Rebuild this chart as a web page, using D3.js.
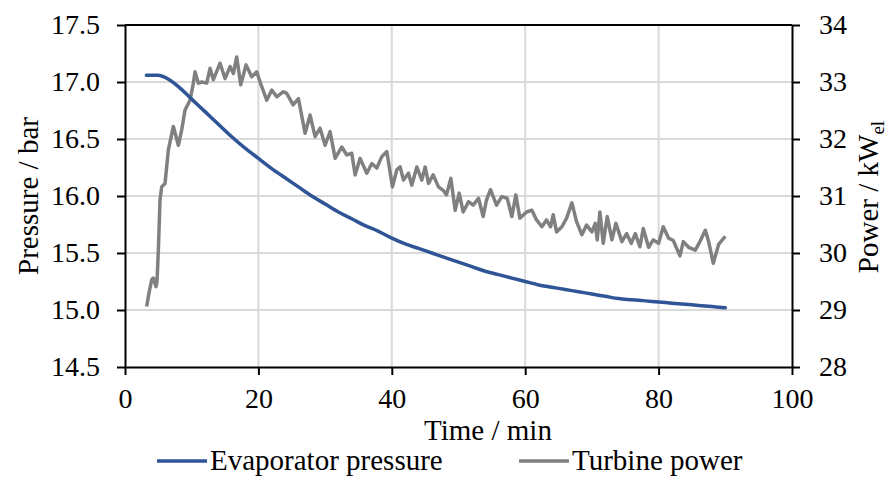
<!DOCTYPE html>
<html>
<head>
<meta charset="utf-8">
<script src="https://cdn.jsdelivr.net/npm/d3@7"></script>
<style>
  body { margin: 0; background: #fff; }
  text { font-family: "Liberation Serif", "Times New Roman", serif; fill: #000; }
</style>
</head>
<body>
<svg id="chart" width="892" height="478"></svg>
<script>
// evaporator pressure (bar) vs time (min)
const pressureTime = [3.2, 5, 6, 8, 10, 12, 14, 16, 18, 20, 22, 24, 26, 28, 30, 32, 34, 36, 38, 40,
  42, 44, 46, 48, 50, 52, 54, 56, 58, 60, 62, 64, 66, 68, 70, 72, 74, 76, 78, 80, 82, 84, 86, 88, 90];
const pressureValue = [17.06, 17.06, 17.04, 16.96, 16.85, 16.74, 16.63, 16.52, 16.42, 16.33, 16.24, 16.16,
  16.08, 16.00, 15.93, 15.86, 15.80, 15.74, 15.69, 15.63, 15.58, 15.54, 15.50, 15.46, 15.42, 15.38, 15.34,
  15.31, 15.28, 15.25, 15.22, 15.20, 15.18, 15.16, 15.14, 15.12, 15.10, 15.09, 15.08, 15.07, 15.06, 15.05,
  15.04, 15.03, 15.02];

// turbine power (kW_el) vs time (min)
const powerTime = [3.25, 3.6, 4.0, 4.25, 4.65, 4.8, 5.0, 5.25, 5.5, 6.0, 6.5, 7.25, 8.0, 8.5, 9.0, 9.75,
  10.25, 10.5, 11.0, 11.5, 12.25, 12.75, 13.25, 14.25, 15.0, 15.75, 16.25, 16.75, 17.35, 18.15, 19.0, 19.75,
  20.25, 21.25, 22.0, 22.75, 23.75, 24.25, 25.2, 26.0, 27.0, 27.75, 28.5, 29.25, 30.0, 30.75, 31.5, 32.5,
  33.25, 34.0, 34.5, 35.25, 36.25, 37.0, 37.75, 38.5, 39.25, 40.1, 40.75, 41.25, 41.75, 42.5, 43.0, 43.75,
  44.5, 45.0, 45.5, 46.2, 47.0, 47.7, 48.2, 48.85, 49.5, 50.1, 50.7, 51.5, 52.2, 53.0, 53.7, 54.2, 54.8,
  55.7, 56.5, 57.3, 58.0, 58.6, 59.2, 60.2, 61.0, 61.7, 62.5, 63.2, 63.8, 64.2, 64.7, 65.5, 66.2, 67.0,
  67.7, 68.5, 69.2, 70.0, 70.5, 70.8, 71.2, 71.7, 72.3, 73.0, 73.6, 74.5, 75.2, 75.9, 76.5, 77.2, 77.7,
  78.5, 79.2, 80.0, 80.7, 81.5, 82.2, 83.2, 83.7, 84.5, 85.5, 86.2, 87.0, 87.5, 88.2, 89.0, 89.5, 90.0];
const powerValue = [29.06, 29.3, 29.53, 29.56, 29.41, 29.5, 30.05, 30.93, 31.16, 31.22, 31.81, 32.22,
  31.89, 32.16, 32.51, 32.68, 32.98, 33.18, 32.98, 33.0, 32.98, 33.24, 33.04, 33.33, 33.06, 33.27, 33.15,
  33.44, 32.95, 33.3, 33.09, 33.18, 33.0, 32.68, 32.86, 32.74, 32.83, 32.8, 32.6, 32.71, 32.1, 32.42,
  32.04, 32.19, 31.89, 32.13, 31.66, 31.86, 31.72, 31.75, 31.37, 31.66, 31.4, 31.57, 31.49, 31.69, 31.78,
  31.16, 31.46, 31.51, 31.28, 31.4, 31.19, 31.51, 31.28, 31.51, 31.22, 31.37, 31.16, 31.1, 31.02, 31.31,
  30.75, 31.05, 30.72, 30.9, 30.84, 30.96, 30.64, 30.93, 31.11, 30.84, 30.99, 30.96, 30.64, 31.02, 30.61,
  30.72, 30.75, 30.58, 30.46, 30.58, 30.46, 30.67, 30.37, 30.46, 30.61, 30.88, 30.55, 30.32, 30.49, 30.37,
  30.52, 30.23, 30.72, 30.17, 30.64, 30.23, 30.52, 30.2, 30.34, 30.17, 30.34, 30.11, 30.43, 30.1, 30.23,
  30.17, 30.46, 30.26, 30.22, 29.95, 30.2, 30.1, 30.05, 30.2, 30.4, 30.2, 29.82, 30.15, 30.22, 30.29];

const xTicks = [0, 20, 40, 60, 80, 100];
const leftTicks = [14.5, 15.0, 15.5, 16.0, 16.5, 17.0, 17.5];
const rightTicks = [28, 29, 30, 31, 32, 33, 34];

const svg = d3.select("#chart");
const plotLeft = 125, plotRight = 792, plotTop = 25, plotBottom = 367;

let x = d3.scaleLinear().domain([0, 100]).range([plotLeft, plotRight]);
let yP = d3.scaleLinear().domain([14.5, 17.5]).range([plotBottom, plotTop]);
let yW = d3.scaleLinear().domain([28, 34]).range([plotBottom, plotTop]);

// gridlines
let grid = svg.append("g").attr("stroke", "#d9d9d9").attr("stroke-width", 2);
grid.selectAll(".hg").data(leftTicks.slice(1, -1)).enter().append("line")
  .attr("x1", plotLeft).attr("x2", plotRight)
  .attr("y1", d => yP(d)).attr("y2", d => yP(d));
grid.selectAll(".vg").data(xTicks.slice(1, -1)).enter().append("line")
  .attr("y1", plotTop).attr("y2", plotBottom)
  .attr("x1", d => x(d)).attr("x2", d => x(d));

// top border
svg.append("line").attr("x1", plotLeft).attr("x2", plotRight).attr("y1", plotTop).attr("y2", plotTop)
  .attr("stroke", "#000").attr("stroke-width", 2);

function styleAxis(g) {
  g.attr("font-family", "Liberation Serif");
  g.selectAll("path, line").attr("stroke", "#000").attr("stroke-width", 2);
  g.selectAll("text").style("font-size", "28px");
}

svg.append("g").attr("transform", `translate(0,${plotBottom})`)
  .call(d3.axisBottom(x).tickValues(xTicks).tickSize(8).tickPadding(13).tickSizeOuter(0))
  .call(styleAxis);
svg.append("g").attr("transform", `translate(${plotLeft},0)`)
  .call(d3.axisLeft(yP).tickValues(leftTicks).tickFormat(d3.format(".1f")).tickSize(8).tickPadding(17).tickSizeOuter(0))
  .call(styleAxis);
svg.append("g").attr("transform", `translate(${plotRight},0)`)
  .call(d3.axisRight(yW).tickValues(rightTicks).tickFormat(d3.format("d")).tickSize(8).tickPadding(19).tickSizeOuter(0))
  .call(styleAxis);

// series
let pressureLine = d3.line().x(d => x(d[0])).y(d => yP(d[1])).curve(d3.curveMonotoneX);
let powerLine = d3.line().x(d => x(d[0])).y(d => yW(d[1]));

svg.append("path").datum(powerTime.map((t, i) => [t, powerValue[i]]))
  .attr("d", powerLine).attr("fill", "none")
  .attr("stroke", "#808080").attr("stroke-width", 3.5).attr("stroke-linejoin", "round");
svg.append("path").datum(pressureTime.map((t, i) => [t, pressureValue[i]]))
  .attr("d", pressureLine).attr("fill", "none")
  .attr("stroke", "#2f5597").attr("stroke-width", 3.5).attr("stroke-linecap", "round");

// axis titles
svg.append("text").attr("x", 488).attr("y", 440).attr("text-anchor", "middle")
  .style("font-size", "29px").text("Time / min");
svg.append("text").attr("transform", "translate(38,196) rotate(-90)").attr("text-anchor", "middle")
  .style("font-size", "29px").text("Pressure / bar");
let rt = svg.append("text").attr("transform", "translate(878,197) rotate(-90)").attr("text-anchor", "middle")
  .style("font-size", "29px");
rt.append("tspan").text("Power / kW");
rt.append("tspan").attr("dy", 6).style("font-size", "19px").text("el");

// legend
const legendItems = [
  { name: "Evaporator pressure", color: "#2f5597", x: 157 },
  { name: "Turbine power", color: "#808080", x: 519 }
];
let lg = svg.selectAll(".legend").data(legendItems).enter().append("g");
lg.append("line").attr("x1", d => d.x).attr("x2", d => d.x + 50)
  .attr("y1", 461).attr("y2", 461).attr("stroke", d => d.color).attr("stroke-width", 3.5);
lg.append("text").attr("x", d => d.x + 53).attr("y", 470)
  .style("font-size", "29px").text(d => d.name);
</script>
</body>
</html>
